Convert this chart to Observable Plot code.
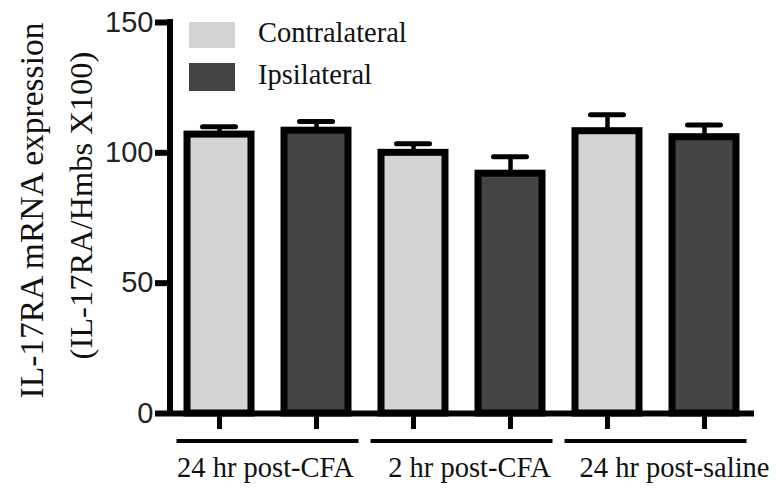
<!DOCTYPE html>
<html><head><meta charset="utf-8">
<script src="https://cdn.jsdelivr.net/npm/d3@7"></script>
<script src="https://cdn.jsdelivr.net/npm/@observablehq/plot@0.6"></script>
<style>body{margin:0;background:#fff}</style>
</head><body><div id="chart"></div>
<script>
const groups = ["24 hr post-CFA", "2 hr post-CFA", "24 hr post-saline"];
const sides = ["Contralateral", "Ipsilateral"];
const sideColors = ["#d4d4d4", "#444444"];
const contralateral = [107, 100, 108.3];
const ipsilateral = [108.5, 92, 106];
const contralateralErr = [3, 3.5, 6.3];
const ipsilateralErr = [3.5, 6.5, 4.7];
const yTicks = [0, 50, 100, 150];
const yTitle = ["IL-17RA mRNA expression", "(IL-17RA/Hmbs X100)"];

const data = [];
groups.forEach((g, i) => {
  data.push({group: g, side: sides[0], key: g + "|" + sides[0], value: contralateral[i], err: contralateralErr[i]});
  data.push({group: g, side: sides[1], key: g + "|" + sides[1], value: ipsilateral[i], err: ipsilateralErr[i]});
});
const keys = data.map(d => d.key);

const serif = "'Liberation Serif', 'Times New Roman', serif";
const sans = "'Liberation Sans', Arial, sans-serif";

const decor = (index, scales, values, dims) => {
  const {x, y, color} = scales;
  const g = d3.create("svg:g");
  // y axis line
  g.append("line")
    .attr("x1", dims.marginLeft).attr("x2", dims.marginLeft)
    .attr("y1", y(150) - 3).attr("y2", y(0) + 3)
    .attr("stroke", "black").attr("stroke-width", 6);
  // group lines and labels (label nudges as in the original figure)
  const bw = x.bandwidth();
  const nudge = [-2, 8, 19];
  groups.forEach((grp, i) => {
    const k1 = grp + "|" + sides[0], k2 = grp + "|" + sides[1];
    const xa = x(k1) - 10.5, xb = x(k2) + bw + 10.5;
    g.append("line").attr("x1", xa).attr("x2", xb)
      .attr("y1", y(0) + 28).attr("y2", y(0) + 28)
      .attr("stroke", "black").attr("stroke-width", 4);
    g.append("text").attr("x", (x(k1) + x(k2) + bw) / 2 + nudge[i]).attr("y", y(0) + 64)
      .attr("text-anchor", "middle").attr("font-family", serif).attr("font-size", 28.5)
      .attr("fill", "#111").text(grp);
  });
  // legend
  const lx = dims.marginLeft + 19;
  sides.forEach((s, i) => {
    const top = dims.marginTop + (i === 0 ? 0 : 41);
    g.append("rect").attr("x", lx).attr("y", top).attr("width", 46).attr("height", i === 0 ? 26 : 28)
      .attr("fill", color(s));
    g.append("text").attr("x", lx + 69).attr("y", top + (i === 0 ? 20 : 21))
      .attr("text-anchor", "start")
      .attr("font-family", serif).attr("font-size", 28.5).attr("fill", "#111").text(s);
  });
  return g.node();
};

const chart = Plot.plot({
  width: 776,
  height: 489,
  marginLeft: 170,
  marginRight: 22,
  marginTop: 22,
  marginBottom: 76,
  style: {background: "#fff", overflow: "visible"},
  x: {domain: keys, paddingInner: 0.34, paddingOuter: 0.17, axis: null},
  y: {domain: [0, 150], axis: null},
  color: {domain: sides, range: sideColors},
  marks: [
    Plot.axisY({ticks: yTicks, tickSize: 15, tickPadding: 2, strokeWidth: 6, fontSize: 29,
      fontFamily: sans, fill: "#222", label: null}),
    Plot.axisX({tickSize: 16, strokeWidth: 5, tickFormat: () => "", label: null}),
    Plot.ruleX(data, {x: "key", y1: "value", y2: d => d.value + d.err, strokeWidth: 4.5, stroke: "black"}),
    Plot.tickY(data, {x: "key", y: d => d.value + d.err, strokeWidth: 5, stroke: "black",
      insetLeft: 15.5, insetRight: 15.5, strokeLinecap: "round"}),
    Plot.barY(data, {x: "key", y: "value", fill: "side", stroke: "black", strokeWidth: 7}),
    Plot.ruleY([0], {strokeWidth: 6, stroke: "black"}),
    Plot.text([yTitle[0]], {frameAnchor: "left", text: d => d, rotate: -90, dx: -138, dy: -7.5,
      fontSize: 33.5, fontFamily: serif, fill: "#111", textAnchor: "middle", lineAnchor: "middle"}),
    Plot.text([yTitle[1]], {frameAnchor: "left", text: d => d, rotate: -90, dx: -89, dy: -12.5,
      fontSize: 32.5, fontFamily: serif, fill: "#111", textAnchor: "middle", lineAnchor: "middle"}),
    decor
  ]
});
document.getElementById("chart").appendChild(chart);
</script>
</body></html>
